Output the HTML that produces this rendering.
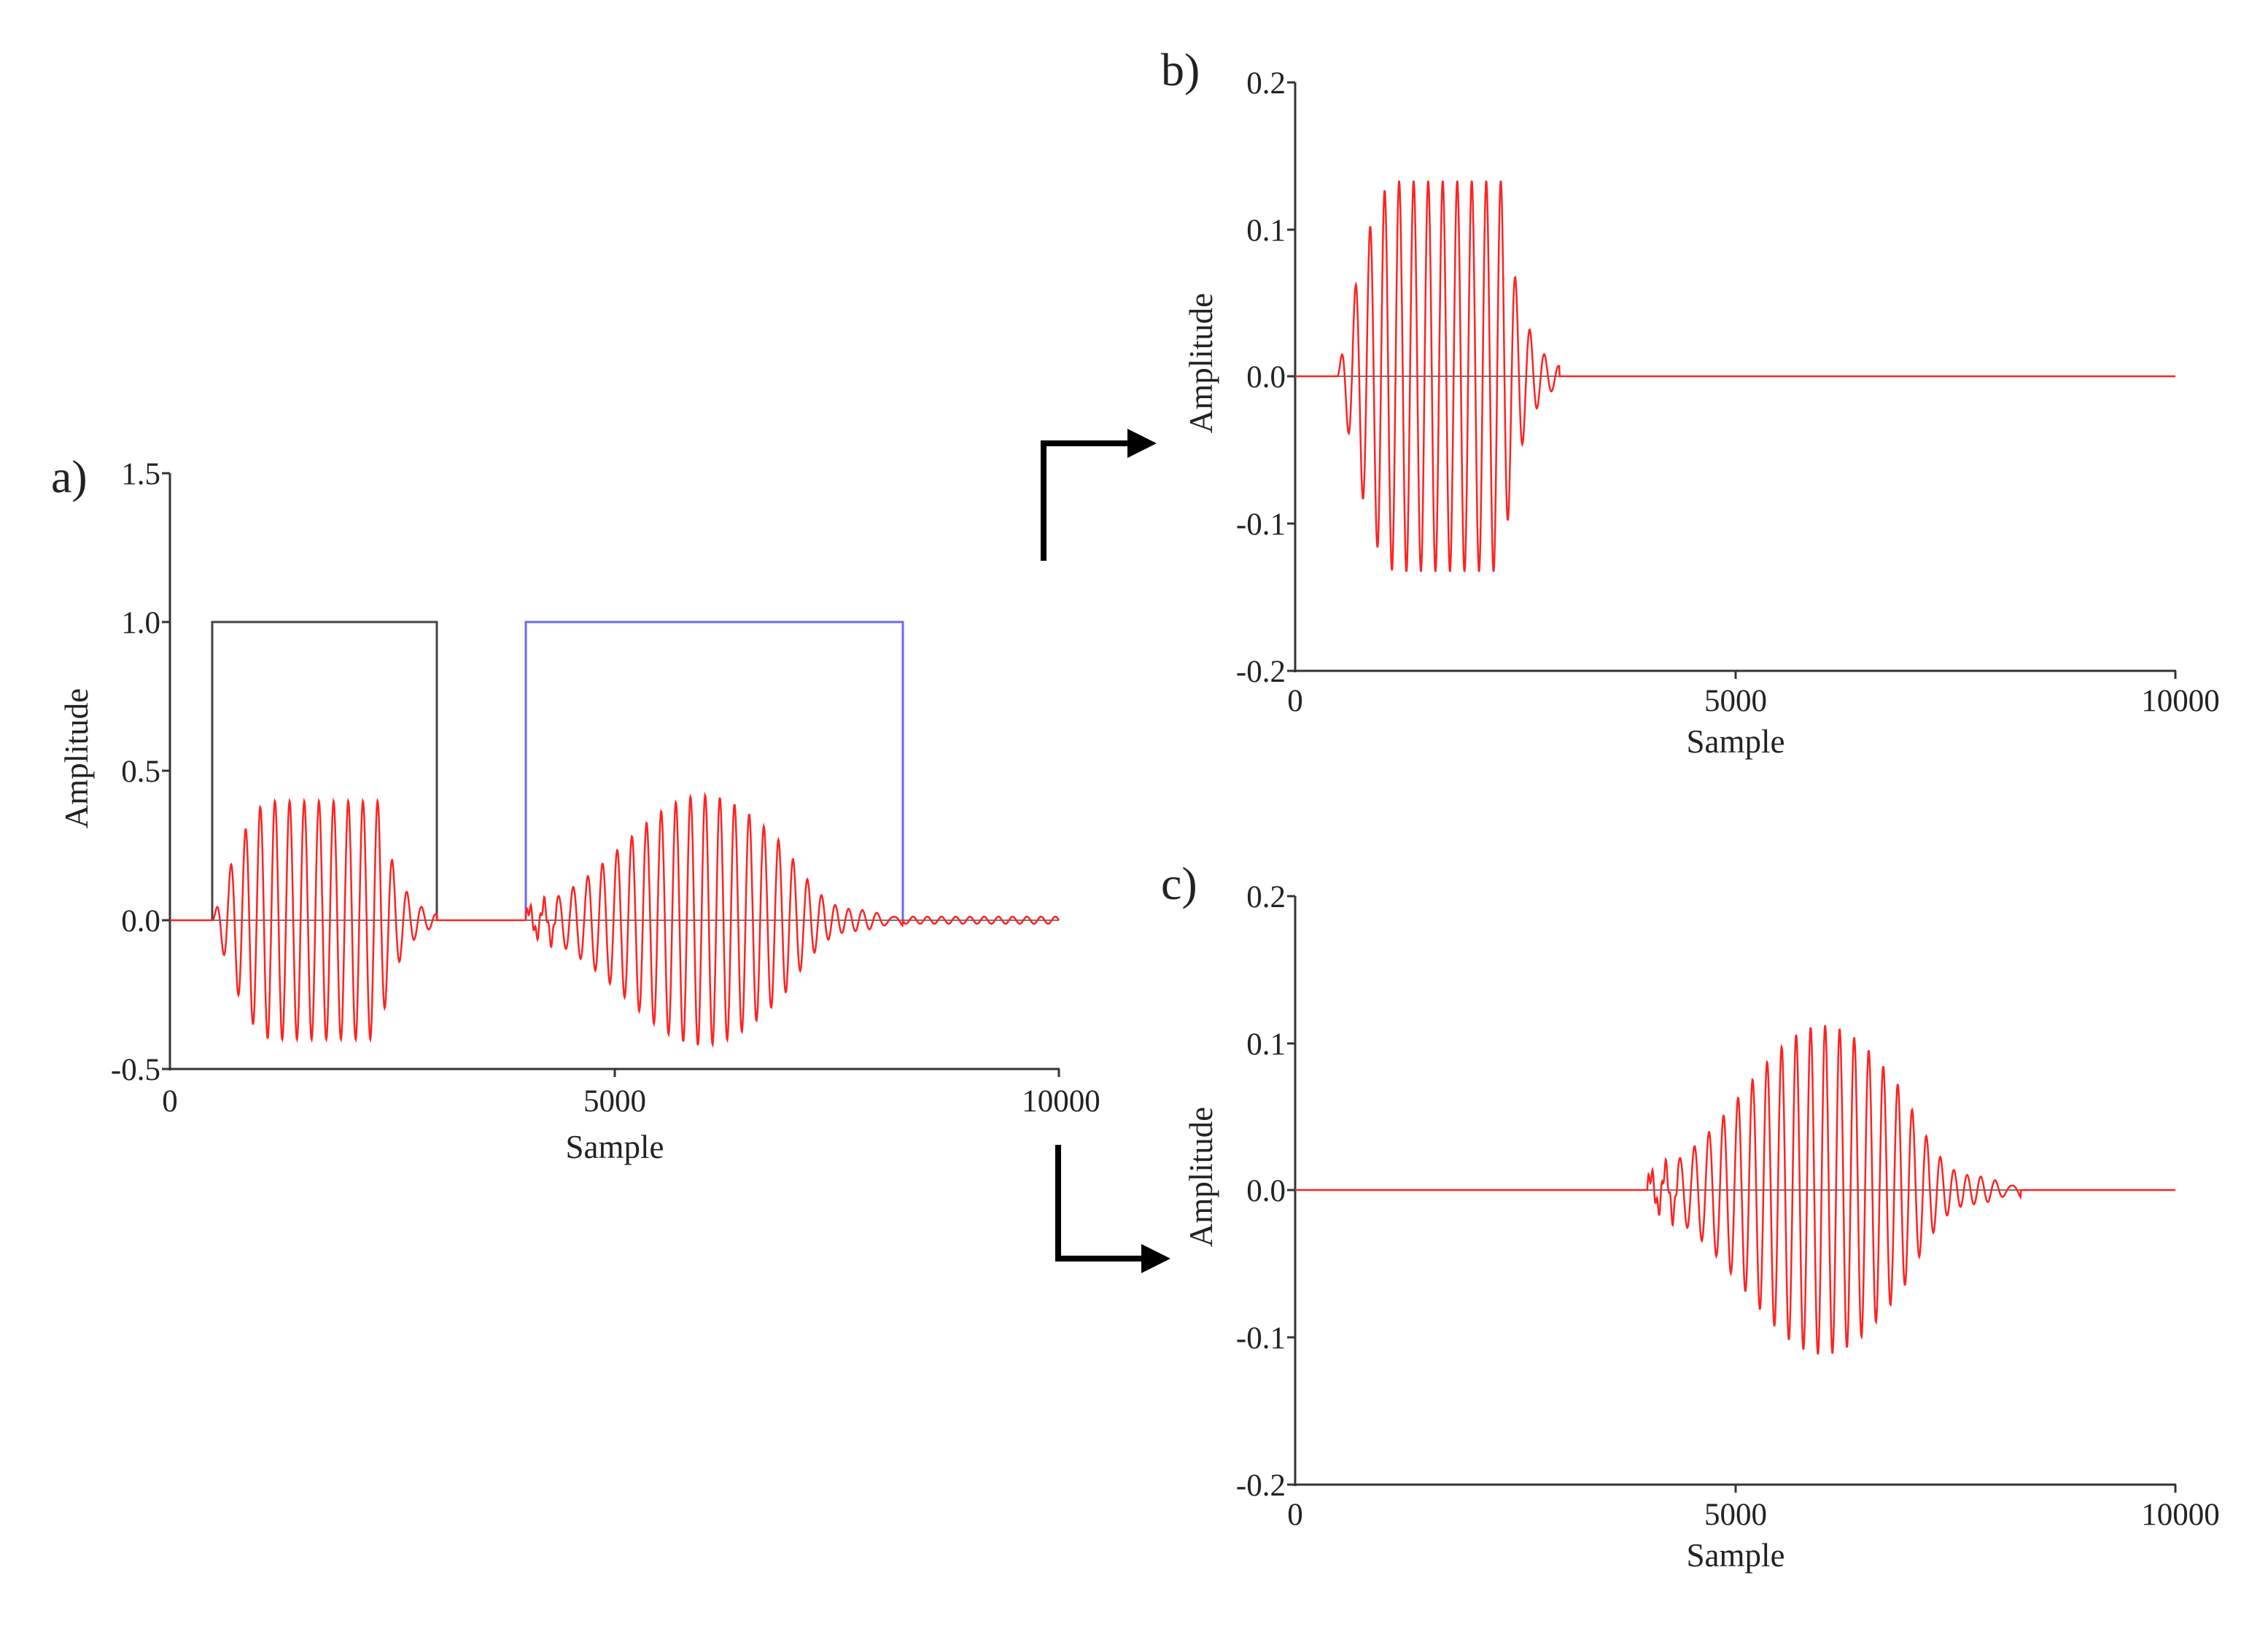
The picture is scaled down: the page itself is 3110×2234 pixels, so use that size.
<!DOCTYPE html>
<html><head><meta charset="utf-8"><style>
html,body{margin:0;padding:0;background:#fff;}
svg{display:block;}
text{font-family:"Liberation Serif",serif;fill:#222;}
</style></head><body>
<svg id="s" width="3110" height="2234" viewBox="0 0 3110 2234" xmlns="http://www.w3.org/2000/svg">
<g>
<line x1="233" y1="649" x2="233" y2="1468" stroke="#333" stroke-width="3"/>
<line x1="231" y1="1466" x2="1453" y2="1466" stroke="#333" stroke-width="3"/>
<g stroke="#333" stroke-width="3">
<line x1="222" y1="649" x2="233" y2="649"/><line x1="222" y1="853" x2="233" y2="853"/><line x1="222" y1="1057" x2="233" y2="1057"/><line x1="222" y1="1262" x2="233" y2="1262"/><line x1="222" y1="1466" x2="233" y2="1466"/>
<line x1="843" y1="1466" x2="843" y2="1477"/><line x1="1452" y1="1466" x2="1452" y2="1477"/>
</g>
<g font-size="43" text-anchor="end">
<text x="220" y="664">1.5</text><text x="220" y="868">1.0</text><text x="220" y="1072">0.5</text><text x="220" y="1277">0.0</text><text x="220" y="1481">-0.5</text>
</g>
<g font-size="43" text-anchor="middle">
<text x="233" y="1524">0</text><text x="843" y="1524">5000</text><text x="1455" y="1524">10000</text>
<text x="843" y="1588" font-size="45">Sample</text>
</g>
<text transform="translate(120,1040) rotate(-90)" font-size="45" text-anchor="middle">Amplitude</text>
<text x="70" y="675" font-size="64">a)</text>
<polyline points="291,1262 291,853 599,853 599,1262" fill="none" stroke="#444" stroke-width="3"/>
<polyline points="721,1262 721,853 1238,853 1238,1262" fill="none" stroke="#6a6af0" stroke-width="3"/>
<line x1="233" y1="1262" x2="1452" y2="1262" stroke="#777" stroke-width="2"/>
<path id="wa" fill="none" stroke="#f22" stroke-width="2.5"/>
</g>
<g>
<line x1="1776" y1="113" x2="1776" y2="922" stroke="#333" stroke-width="3"/>
<line x1="1774" y1="920" x2="2984" y2="920" stroke="#333" stroke-width="3"/>
<g stroke="#333" stroke-width="3">
<line x1="1765" y1="113" x2="1776" y2="113"/><line x1="1765" y1="315" x2="1776" y2="315"/><line x1="1765" y1="516" x2="1776" y2="516"/><line x1="1765" y1="718" x2="1776" y2="718"/><line x1="1765" y1="920" x2="1776" y2="920"/>
<line x1="2380" y1="920" x2="2380" y2="931"/><line x1="2983" y1="920" x2="2983" y2="931"/>
</g>
<g font-size="43" text-anchor="end">
<text x="1763" y="128">0.2</text><text x="1763" y="330">0.1</text><text x="1763" y="531">0.0</text><text x="1763" y="733">-0.1</text><text x="1763" y="935">-0.2</text>
</g>
<g font-size="43" text-anchor="middle">
<text x="1776" y="975">0</text><text x="2380" y="975">5000</text><text x="2990" y="975">10000</text>
<text x="2380" y="1032" font-size="45">Sample</text>
</g>
<text transform="translate(1662,498) rotate(-90)" font-size="45" text-anchor="middle">Amplitude</text>
<text x="1592" y="117" font-size="64">b)</text>
<line x1="1776" y1="516" x2="2983" y2="516" stroke="#777" stroke-width="2"/>
<path id="wb" fill="none" stroke="#f22" stroke-width="2.5"/>
</g>
<g>
<line x1="1776" y1="1229" x2="1776" y2="2038" stroke="#333" stroke-width="3"/>
<line x1="1774" y1="2036" x2="2984" y2="2036" stroke="#333" stroke-width="3"/>
<g stroke="#333" stroke-width="3">
<line x1="1765" y1="1229" x2="1776" y2="1229"/><line x1="1765" y1="1431" x2="1776" y2="1431"/><line x1="1765" y1="1632" x2="1776" y2="1632"/><line x1="1765" y1="1834" x2="1776" y2="1834"/><line x1="1765" y1="2036" x2="1776" y2="2036"/>
<line x1="2380" y1="2036" x2="2380" y2="2047"/><line x1="2983" y1="2036" x2="2983" y2="2047"/>
</g>
<g font-size="43" text-anchor="end">
<text x="1763" y="1244">0.2</text><text x="1763" y="1446">0.1</text><text x="1763" y="1647">0.0</text><text x="1763" y="1849">-0.1</text><text x="1763" y="2051">-0.2</text>
</g>
<g font-size="43" text-anchor="middle">
<text x="1776" y="2091">0</text><text x="2380" y="2091">5000</text><text x="2990" y="2091">10000</text>
<text x="2380" y="2148" font-size="45">Sample</text>
</g>
<text transform="translate(1662,1614) rotate(-90)" font-size="45" text-anchor="middle">Amplitude</text>
<text x="1592" y="1233" font-size="64">c)</text>
<line x1="1776" y1="1632" x2="2983" y2="1632" stroke="#777" stroke-width="2"/>
<path id="wc" fill="none" stroke="#f22" stroke-width="2.5"/>
</g>
<polyline points="1431,769 1431,608 1550,608" fill="none" stroke="#000" stroke-width="8"/>
<polygon points="1546,588 1586,608 1546,628" fill="#000"/>
<polyline points="1451,1570 1451,1726 1569,1726" fill="none" stroke="#000" stroke-width="8"/>
<polygon points="1565,1706 1605,1726 1565,1746" fill="#000"/>
</svg>
<script>
var P=165;
function s1(t){
  if(t<480||t>3000)return 0;
  var e;
  if(t<1150){var u=(t-480)/670;e=Math.sin(u*Math.PI/2);}
  else if(t<2350)e=1;
  else e=Math.exp(-(t-2350)/220);
  return e*Math.sin(2*Math.PI*(t-480)/P);
}
function s2(t){
  if(t<4000||t>8240)return 0;
  var g=Math.exp(-Math.pow((t-6000)/900,2)/2);
  var v=g*Math.sin(2*Math.PI*(t-4000)/P);
  if(t>6900){v+=0.2*Math.sin(2*Math.PI*(t-6900)/P)*Math.sin(Math.PI*(t-6900)/1340);}
  if(t<4350){v+=0.05*Math.sin(2*Math.PI*t/50);}
  return v;
}
function build(id,x0,x1,y0,scale,f,extra){
  var d="",tt;
  for(tt=0;tt<=10000;tt+=5){
    var v=f(tt)+(extra?extra(tt):0);
    var x=x0+(x1-x0)*tt/10000, y=y0-v*scale;
    d+=(tt?"L":"M")+x.toFixed(1)+" "+y.toFixed(1);
  }
  document.getElementById(id).setAttribute("d",d);
}
build("wa",233,1452,1262,409,function(t){return 0.4*s1(t)+0.42*s2(t);},function(t){return t>8240?0.012*Math.sin(2*Math.PI*t/160):0;});
build("wb",1776,2983,516,2018,function(t){return 0.133*s1(t);});
build("wc",1776,2983,1632,2018,function(t){return 0.112*s2(t);});
</script>
</body></html>
